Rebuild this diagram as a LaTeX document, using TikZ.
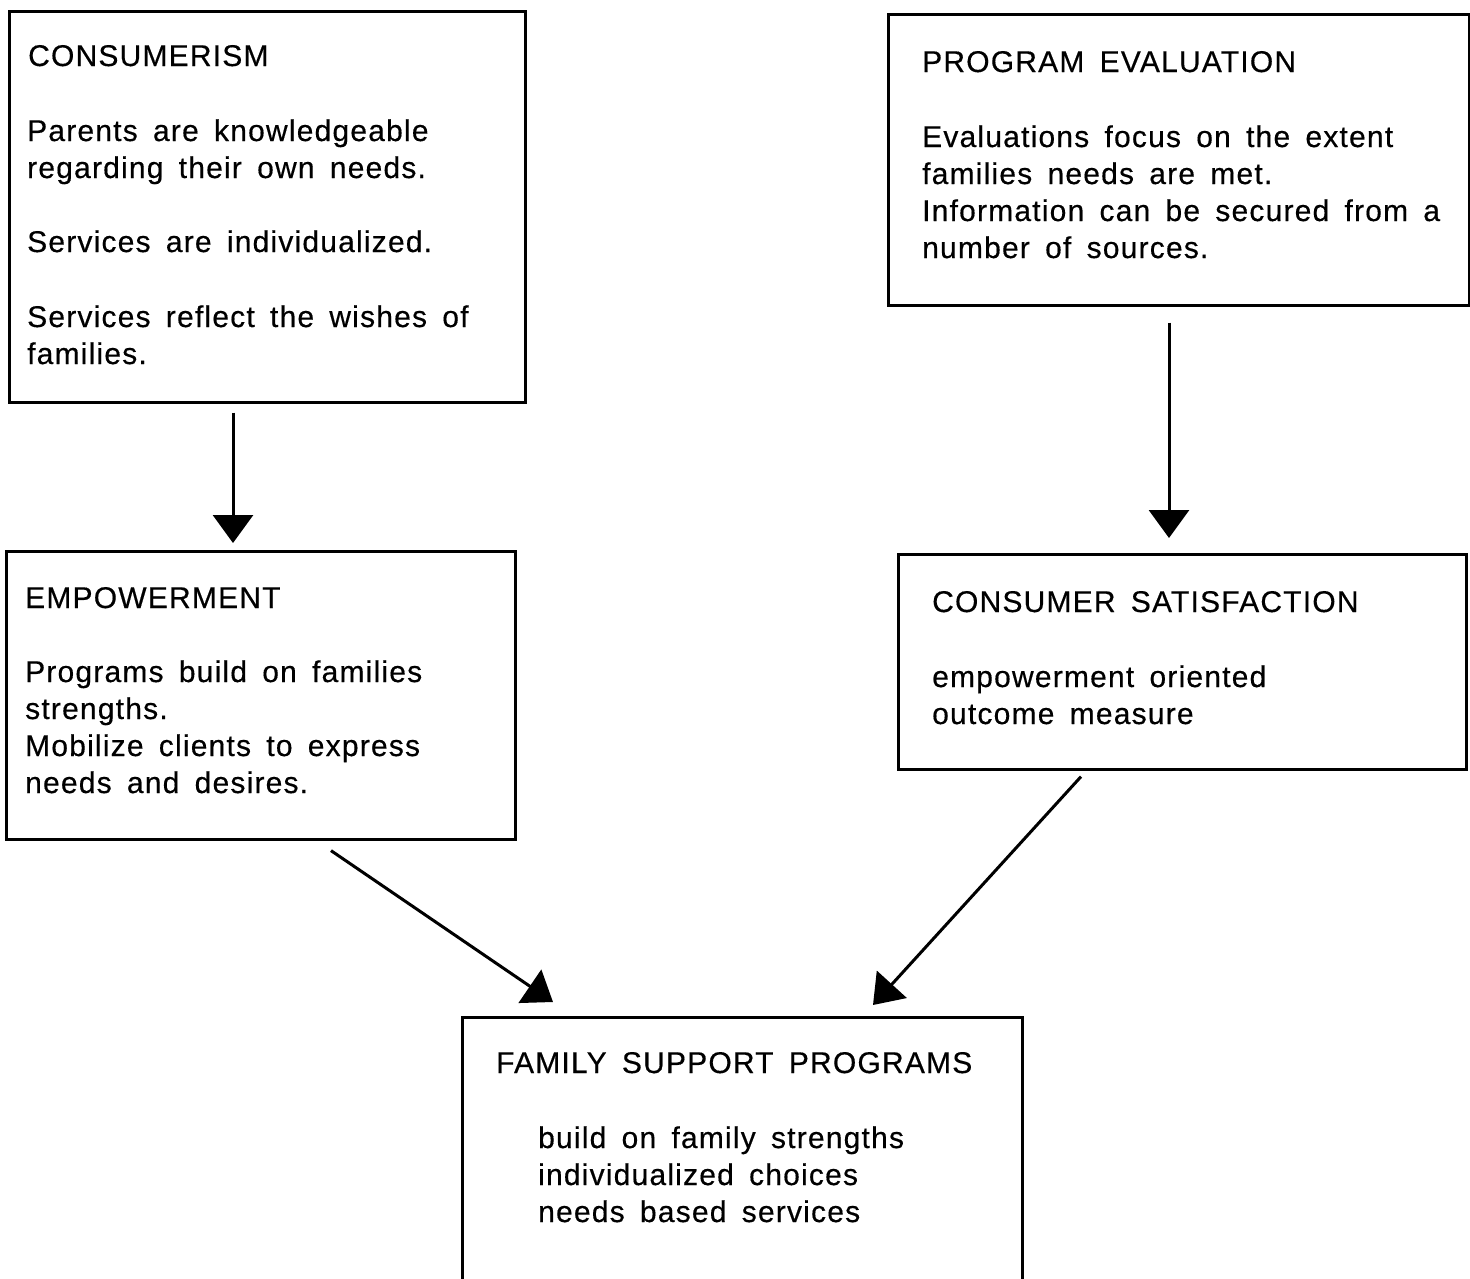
\documentclass[tikz,border=0pt]{standalone}
\usepackage{fontspec}
\setmainfont{Liberation Sans}[LetterSpace=4, WordSpace=1.6, FakeBold=0.4]
\usetikzlibrary{arrows.meta,calc}
\tikzset{
  box/.style={draw=black, line width=2.6pt, rectangle, anchor=north west, inner sep=0pt},
  txt/.style={anchor=base west, inner sep=0pt, font=\fontsize{30}{37}\selectfont},
  arr/.style={line width=3pt, -{Triangle[length=28pt,width=40pt]}},
}
\begin{document}
\begin{tikzpicture}[x=1pt,y=-1pt]
\useasboundingbox[fill=white] (0,0) rectangle (1470,1278);
% boxes
\node[box, minimum width=516pt, minimum height=391pt] (cons) at (8,10) {};
\node[box, minimum width=509pt, minimum height=288pt] (emp) at (5,550) {};
\node[box, minimum width=581pt, minimum height=291pt] (prog) at (887,13) {};
\node[box, minimum width=568pt, minimum height=215pt] (sat) at (897,553) {};
\node[box, minimum width=560pt, minimum height=300pt] (fsp) at (461,1016) {};
% consumerism text
\node[txt] (c0) at (28,66) {CONSUMERISM};
\node[txt] (c1) at (27,141) {Parents are knowledgeable};
\node[txt] (c2) at (27,178) {regarding their own needs.};
\node[txt] (c3) at (27,252) {Services are individualized.};
\node[txt] (c4) at (27,327) {Services reflect the wishes of};
\node[txt] (c5) at (27,364) {families.};
% program evaluation text
\node[txt] (p0) at (922,72) {PROGRAM EVALUATION};
\node[txt] (p1) at (922,147) {Evaluations focus on the extent};
\node[txt] (p2) at (922,184) {families needs are met.};
\node[txt] (p3) at (922,221) {Information can be secured from a};
\node[txt] (p4) at (922,258) {number of sources.};
% empowerment text
\node[txt] (e0) at (25,608) {EMPOWERMENT};
\node[txt] (e1) at (25,682) {Programs build on families};
\node[txt] (e2) at (25,719) {strengths.};
\node[txt] (e3) at (25,756) {Mobilize clients to express};
\node[txt] (e4) at (25,793) {needs and desires.};
% consumer satisfaction text
\node[txt] (s0) at (932,612) {CONSUMER SATISFACTION};
\node[txt] (s1) at (932,687) {empowerment oriented};
\node[txt] (s2) at (932,724) {outcome measure};
% family support programs text
\node[txt] (f0) at (496,1073) {FAMILY SUPPORT PROGRAMS};
\node[txt] (f1) at (538,1148) {build on family strengths};
\node[txt] (f2) at (538,1185) {individualized choices};
\node[txt] (f3) at (538,1222) {needs based services};
% arrows
\draw[arr, shorten <=9pt, shorten >=7pt] (cons.south -| 233,0) -- (emp.north -| 233,0);
\draw[arr, shorten <=16pt, shorten >=15pt] (prog.south -| 1169,0) -- (sat.north -| 1169,0);
\draw[arr] ($(emp.south west)+(326,10)$) -- ($(fsp.north west)+(92,-14)$);
\draw[arr] ($(sat.south west)+(184,6)$) -- ($(fsp.north west)+(412,-11)$);
\end{tikzpicture}
\end{document}
